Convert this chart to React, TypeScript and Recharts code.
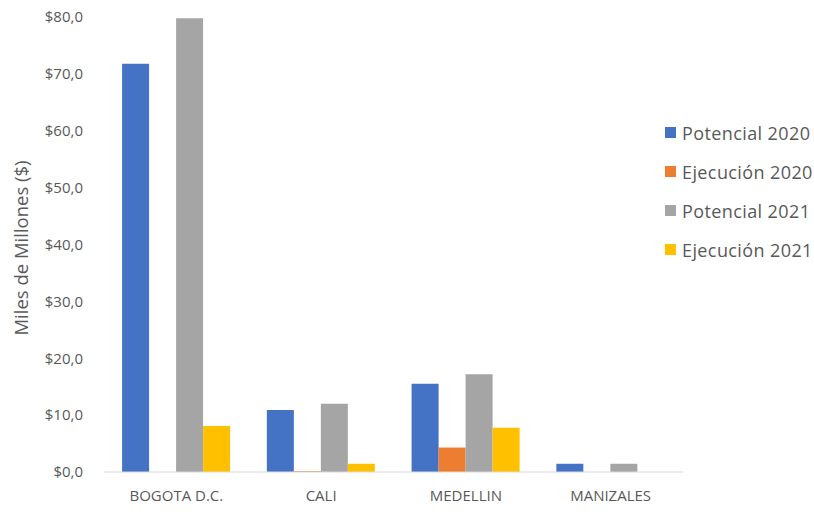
import React from 'react';
import { BarChart, Bar, XAxis, YAxis } from 'recharts';

const categories = ['BOGOTA D.C.', 'CALI', 'MEDELLIN', 'MANIZALES'];
const potencial2020 = [71.8, 10.9, 15.5, 1.45];
const ejecucion2020 = [0, 0.15, 4.3, 0];
const potencial2021 = [79.8, 12.0, 17.2, 1.45];
const ejecucion2021 = [8.1, 1.45, 7.8, 0];
const yTicks = [0, 10, 20, 30, 40, 50, 60, 70, 80];

const seriesNames = ['Potencial 2020', 'Ejecución 2020', 'Potencial 2021', 'Ejecución 2021'];
const seriesColors = ['#4472C4', '#ED7D31', '#A5A5A5', '#FFC000'];

const data = categories.map((c, i) => ({
  name: c,
  p2020: potencial2020[i],
  e2020: ejecucion2020[i],
  p2021: potencial2021[i],
  e2021: ejecucion2021[i],
}));

const keys = ['p2020', 'e2020', 'p2021', 'e2021'];
const FONT = '"Open Sans", Lato, sans-serif';
const TXT = '#595959';

const fmt = (v: number) => `$${v.toFixed(1).replace('.', ',')}`;

export default function App() {
  return (
    <div style={{ position: 'absolute', left: 0, top: 0, width: 814, height: 516, background: '#fff', overflow: 'hidden' }}>
      <BarChart
        width={814}
        height={516}
        data={data}
        margin={{ top: 17, right: 131, bottom: 0, left: 0 }}
        barCategoryGap="12.5%"
        barGap={0}
      >
        <XAxis
          dataKey="name"
          height={44}
          tickLine={false}
          axisLine={{ stroke: '#D9D9D9' }}
          tickMargin={12}
          tick={{ fontFamily: FONT, fontSize: 15, fill: TXT }}
        />
        <YAxis
          width={104}
          domain={[0, 80]}
          ticks={yTicks}
          tickFormatter={fmt}
          axisLine={false}
          tickLine={false}
          tickMargin={15}
          tick={{ fontFamily: FONT, fontSize: 15, fill: TXT }}
          label={{
            content: () => (
              <text
                x={20}
                y={248}
                transform="rotate(-90 20 248)"
                textAnchor="middle"
                dominantBaseline="central"
                fontFamily={FONT}
                fontSize={18.5}
                fill={TXT}
              >
                Miles de Millones ($)
              </text>
            ),
          }}
        />
        {keys.map((k, i) => (
          <Bar key={k} dataKey={k} name={seriesNames[i]} fill={seriesColors[i]} isAnimationActive={false} />
        ))}
      </BarChart>
      <div
        style={{
          position: 'absolute',
          left: 665,
          top: 113,
          width: 170,
          fontFamily: FONT,
          fontSize: 18,
          letterSpacing: 0.4,
          color: TXT,
          whiteSpace: 'nowrap',
        }}
      >
        {seriesNames.map((n, i) => (
          <div key={n} style={{ display: 'flex', alignItems: 'center', height: 39 }}>
            <span style={{ display: 'inline-block', width: 11, height: 11, background: seriesColors[i], marginRight: 6 }} />
            <span>{n}</span>
          </div>
        ))}
      </div>
    </div>
  );
}
